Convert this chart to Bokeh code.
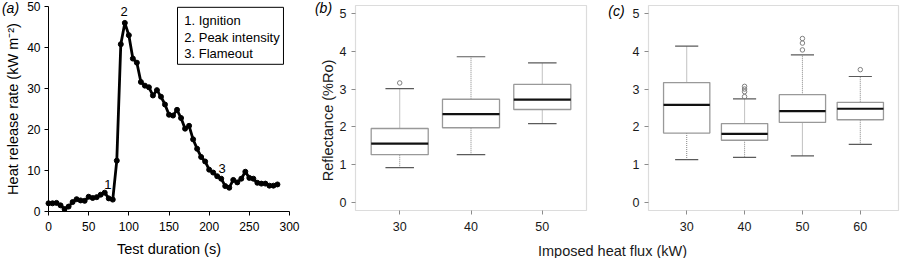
from bokeh.plotting import figure
from bokeh.layouts import row, column
from bokeh.models import Label, BoxAnnotation, FixedTicker, Range1d
from bokeh.core.properties import value
from bokeh.embed import file_html
from bokeh.resources import INLINE

FONT = "Liberation Sans"

# ---------------- Panel (a) data ----------------
time_s = [0, 5, 10, 15, 20, 25, 30, 35, 40, 45, 50, 55, 60, 65, 70, 75, 80, 85, 90, 95,
          100, 105, 110, 115, 120, 125, 130, 135, 140, 145, 150, 155, 160, 165, 170, 175,
          180, 185, 190, 195, 200, 205, 210, 215, 220, 225, 230, 235, 240, 245, 250, 255,
          260, 265, 270, 275, 280, 285]
hrr = [2.0, 2.0, 2.1, 1.5, 0.6, 1.2, 2.3, 3.0, 2.7, 2.6, 3.6, 3.3, 3.5, 4.1, 4.6, 3.2,
       2.9, 12.4, 40.8, 46.0, 43.0, 37.3, 36.3, 31.6, 30.7, 30.3, 28.3, 29.6, 28.0, 26.1,
       23.6, 23.4, 24.8, 22.8, 20.2, 20.9, 17.6, 15.3, 13.3, 12.2, 10.2, 9.5, 8.6, 8.0,
       6.2, 5.8, 7.7, 7.1, 8.0, 9.7, 8.2, 8.0, 7.0, 6.8, 6.8, 6.3, 6.3, 6.6]
stage_labels = ["1", "2", "3"]
stage_time = [74, 94, 216]
stage_hrr = [6.6, 48.8, 10.4]
legend_lines = ["1. Ignition", "2. Peak intensity", "3. Flameout"]
a_xticks = [0, 50, 100, 150, 200, 250, 300]
a_yticks = [0, 10, 20, 30, 40, 50]

# ---------------- Panel (b) data ----------------
b_cats = ["30", "40", "50"]
b_low = [0.93, 1.27, 2.09]
b_q1 = [1.27, 1.98, 2.46]
b_med = [1.56, 2.34, 2.72]
b_q3 = [1.96, 2.73, 3.12]
b_high = [3.01, 3.85, 3.69]
b_out = [[3.16], [], []]

# ---------------- Panel (c) data ----------------
c_cats = ["30", "40", "50", "60"]
c_low = [1.14, 1.20, 1.24, 1.54]
c_q1 = [1.84, 1.65, 2.12, 2.19]
c_med = [2.58, 1.82, 2.42, 2.48]
c_q3 = [3.17, 2.09, 2.85, 2.65]
c_high = [4.13, 2.74, 3.90, 3.33]
c_out = [[], [3.07, 3.00, 2.93, 2.80], [4.33, 4.21, 4.03], [3.51]]

box_yticks = [0, 1, 2, 3, 4, 5]

GRAY = "#8c8c8c"


class Mapper:
    """Maps a data window onto a pixel window of a figure whose frame fills the canvas."""
    def __init__(self, W, H, px0, px1, dx0, dx1, py_top, py_bot, dy_top, dy_bot):
        self.sx = (px1 - px0) / (dx1 - dx0)
        self.sy = (py_bot - py_top) / (dy_top - dy_bot)
        self.x_start = dx0 - px0 / self.sx
        self.x_end = dx1 + (W - px1) / self.sx
        self.y_end = dy_top + py_top / self.sy
        self.y_start = dy_bot - (H - py_bot) / self.sy

    def x(self, px):
        return self.x_start + px / self.sx

    def y(self, py):
        return self.y_end - py / self.sy


def tag_label(text, x, y):
    return Label(x=x, y=y, text=text, text_font=FONT,
                 text_font_size="14px", text_font_style="italic", text_align="center",
                 text_baseline="middle", text_color="black")


def style_axis(ax, color, label_color, label_size):
    ax.major_tick_line_color = color
    ax.major_tick_out = 4
    ax.major_tick_in = 0
    ax.minor_tick_line_color = None
    ax.major_label_text_font = FONT
    ax.major_label_text_font_size = label_size
    ax.major_label_text_color = label_color
    ax.axis_label_text_font = FONT
    ax.axis_label_text_font_size = "14.5px"
    ax.axis_label_text_font_style = "normal"
    ax.axis_label_text_color = label_color


# ---------------- Panel (a) ----------------
WA, HA = 310, 258
ma = Mapper(WA, HA, 48, 289, 0, 300, 6, 211, 50, 0)
pa = figure(width=WA, height=HA, x_range=Range1d(ma.x_start, ma.x_end),
            y_range=Range1d(ma.y_start, ma.y_end),
            output_backend="svg", toolbar_location=None,
            min_border_left=0, min_border_right=0, min_border_top=0, min_border_bottom=0)
pa.outline_line_color = None
pa.grid.visible = False
pa.xaxis.ticker = FixedTicker(ticks=a_xticks)
pa.yaxis.ticker = FixedTicker(ticks=a_yticks)
for ax in (pa.xaxis[0], pa.yaxis[0]):
    style_axis(ax, "black", "black", "12px")
    ax.axis_line_color = "black"
    ax.fixed_location = 0
pa.xaxis.bounds = (0, 300)
pa.yaxis.bounds = (0, 50)
pa.xaxis.major_label_standoff = 6
pa.yaxis.major_label_standoff = 4
pa.xaxis.axis_label = "Test duration (s)"
pa.xaxis.axis_label_standoff = 7
pa.yaxis.axis_label = "Heat release rate (kW m\u207b\u00b2)"
pa.yaxis.axis_label_standoff = 3

pa.line(time_s, hrr, line_width=2.8, color="black")
pa.scatter(time_s, hrr, size=5, color="black")
pa.text(x=stage_time, y=stage_hrr, text=stage_labels, text_font=value(FONT),
        text_font_size="13px", text_align="center", text_baseline="middle",
        text_color="#000000", text_alpha=1.0)

pa.add_layout(BoxAnnotation(left=160.6, right=292.5, bottom=35.9, top=49.8,
                            fill_color="white", fill_alpha=1.0, line_color="black",
                            line_width=1, line_alpha=1.0))
for i, txt in enumerate(legend_lines):
    pa.add_layout(Label(x=169, y=46.6 - 4.05 * i, text=txt, text_font=FONT,
                        text_font_size="13px", text_baseline="middle", text_color="black"))
pa.add_layout(tag_label("(a)", ma.x(10), ma.y(7)))


def make_box(cats, low, q1, med, q3, high, outs, W, px0, px1, xr, ylabel, tag, tag_px, tag_py):
    H = 240
    m = Mapper(W, H, px0, px1, xr[0], xr[1], 5, 210, 5.2, -0.2)
    p = figure(width=W, height=H, x_range=Range1d(m.x_start, m.x_end),
               y_range=Range1d(m.y_start, m.y_end),
               output_backend="svg", toolbar_location=None,
               min_border_left=0, min_border_right=0, min_border_top=0, min_border_bottom=0)
    p.outline_line_color = None
    p.grid.visible = False
    xs = [i + 1 for i in range(len(cats))]
    p.xaxis.ticker = FixedTicker(ticks=xs)
    p.xaxis.major_label_overrides = {x: c for x, c in zip(xs, cats)}
    p.yaxis.ticker = FixedTicker(ticks=box_yticks)
    for ax in (p.xaxis[0], p.yaxis[0]):
        style_axis(ax, GRAY, "#1a1a1a", "12.5px")
        ax.axis_line_color = None
    p.xaxis.fixed_location = -0.2
    p.yaxis.fixed_location = xr[0]
    p.xaxis.major_label_standoff = 7
    p.yaxis.major_label_standoff = 5
    if ylabel:
        p.yaxis.axis_label = ylabel
        p.yaxis.axis_label_standoff = 1

    half = 0.4
    cap = 0.2
    p.segment(x0=xs, y0=q3, x1=xs, y1=high, line_color="#8f8f8f", line_dash="1 1", line_width=1.1)
    p.segment(x0=xs, y0=q1, x1=xs, y1=low, line_color="#8f8f8f", line_dash="1 1", line_width=1.1)
    p.segment(x0=[x - cap for x in xs], y0=high, x1=[x + cap for x in xs], y1=high,
              line_color="#5a5a5a", line_width=1.2)
    p.segment(x0=[x - cap for x in xs], y0=low, x1=[x + cap for x in xs], y1=low,
              line_color="#5a5a5a", line_width=1.2)
    p.quad(left=[x - half for x in xs], right=[x + half for x in xs], bottom=q1, top=q3,
           fill_color="white", line_color="#999999", line_width=1.3)
    p.segment(x0=[x - half for x in xs], y0=med, x1=[x + half for x in xs], y1=med,
              line_color="#111111", line_width=2.2)
    ox, oy = [], []
    for x, vals in zip(xs, outs):
        for v in vals:
            ox.append(x)
            oy.append(v)
    if ox:
        p.scatter(ox, oy, marker="circle", size=4.5, fill_color=None,
                  line_color="#808080", line_width=1)
    p.add_layout(BoxAnnotation(left=xr[0], right=xr[1], bottom=-0.2, top=5.2,
                               fill_color=None, fill_alpha=0, line_color=GRAY, line_width=1.2))
    p.add_layout(tag_label(tag, m.x(tag_px), m.y(tag_py)))
    return p


pb = make_box(b_cats, b_low, b_q1, b_med, b_q3, b_high, b_out, 296, 45, 276, (0.38, 3.62),
              "Reflectance (%Ro)", "(b)", 13, 7)
pc = make_box(c_cats, c_low, c_q1, c_med, c_q3, c_high, c_out, 298, 42, 292, (0.34, 4.66),
              None, "(c)", 10, 10)

plab = figure(width=594, height=18, x_range=Range1d(0, 594), y_range=Range1d(0, 18),
              output_backend="svg", toolbar_location=None, x_axis_type=None, y_axis_type=None,
              min_border_left=0, min_border_right=0, min_border_top=0, min_border_bottom=0)
plab.outline_line_color = None
plab.grid.visible = False
plab.add_layout(Label(x=302, y=8, text="Imposed heat flux (kW)", text_font=FONT,
                      text_font_size="14.5px", text_align="center", text_baseline="middle",
                      text_color="#1a1a1a"))

layout = row(pa, column(row(pb, pc), plab))

with open("out.html", "w") as f:
    f.write(file_html(layout, INLINE))
